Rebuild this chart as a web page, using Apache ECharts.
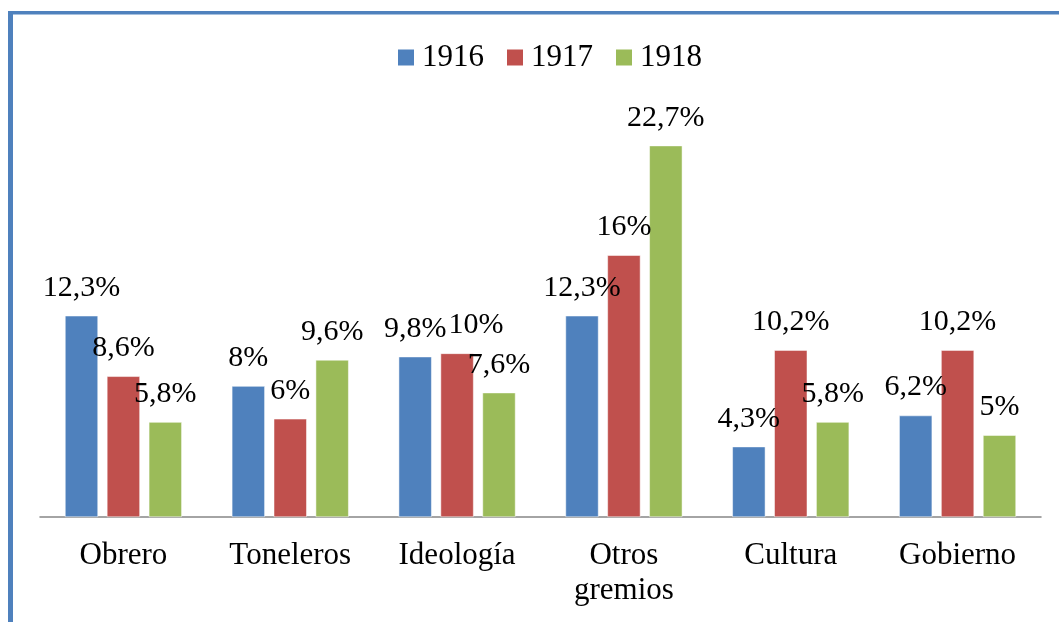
<!DOCTYPE html>
<html>
<head>
<meta charset="utf-8">
<script src="https://cdn.jsdelivr.net/npm/echarts@6/dist/echarts.min.js"></script>
<style>
html,body{margin:0;padding:0;background:#fff}
#main{width:1059px;height:622px}
</style>
</head>
<body>
<div id="main"></div>
<script>
var categories=['Obrero','Toneleros','Ideología','Otros\ngremios','Cultura','Gobierno']
var years=['1916','1917','1918']
var data1916=[12.3,8,9.8,12.3,4.3,6.2]
var data1917=[8.6,6,10,16,10.2,10.2]
var data1918=[5.8,9.6,7.6,22.7,5.8,5]
var colors=['#4F81BD','#C0504D','#9BBB59']

var font='"Liberation Serif","Times New Roman",serif'
var chart=echarts.init(document.getElementById('main'))

var fmt=function (p) {
    return String(p.value).replace('.',',')+'%'
}

// etiqueta "10%" de Ideología desplazada para no pisar "9,8%"
var labelShift={1:{2:[19,0]}}

var series=[data1916,data1917,data1918].map(function (d,i) {
    return {
        name:years[i],
        type:'bar',
        data:d.map(function (v,j) {
            if(labelShift[i]&&labelShift[i][j]){
                return {value:v,label:{offset:labelShift[i][j]}}
            }
            return v
        }),
        barWidth:33,
        barGap:'27%',
        itemStyle:{color:colors[i],borderColor:'#fff',borderWidth:0.5},
        label:{
            show:true,
            position:'top',
            distance:13,
            formatter:fmt,
            color:'#000',
            fontFamily:font,
            fontSize:30
        }
    }
})

chart.setOption({
    animation:false,
    color:colors,
    legend:{
        top:37,
        left:391,
        itemWidth:18,
        itemHeight:18,
        itemGap:21,
        icon:'rect',
        textStyle:{fontFamily:font,fontSize:31,color:'#000',padding:[0,0,0,2]},
        data:years
    },
    grid:{left:40,right:18,top:108,bottom:105},
    xAxis:{
        type:'category',
        data:categories,
        axisLine:{lineStyle:{color:'#868686',width:1.5}},
        axisTick:{show:false},
        axisLabel:{color:'#000',fontFamily:font,fontSize:31,lineHeight:35,margin:21}
    },
    yAxis:{
        type:'value',
        min:0,
        max:25,
        show:false,
        splitLine:{show:false}
    },
    graphic:[
        {type:'rect',shape:{x:8,y:11,width:5,height:611},style:{fill:'#4F81BD'},silent:true},
        {type:'rect',shape:{x:8,y:11,width:1051,height:3.5},style:{fill:'#4F81BD'},silent:true}
    ],
    series:series
})
</script>
</body>
</html>
